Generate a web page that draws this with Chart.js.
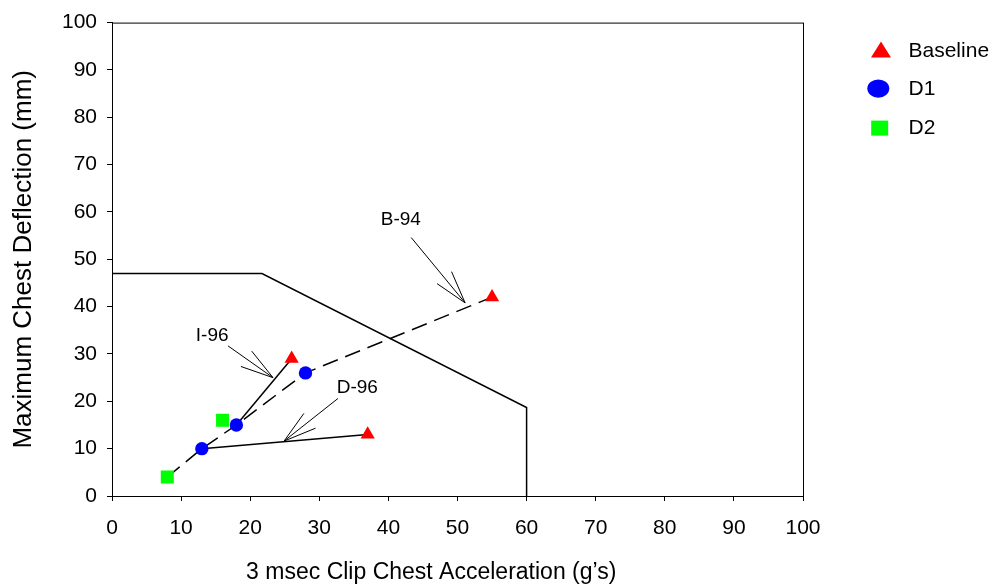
<!DOCTYPE html>
<html>
<head>
<meta charset="utf-8">
<script src="https://cdn.jsdelivr.net/npm/chart.js@4.4.0/dist/chart.umd.min.js"></script>
<style>
  html, body { margin: 0; padding: 0; background: #fff; }
</style>
</head>
<body>
<canvas id="chart1" width="999" height="588"></canvas>
<script>
// test points
const baselineX = [55, 26, 37];
const baselineY = [42, 29, 13];
const d1X = [28, 18, 13];
const d1Y = [26, 15, 10];
const d2X = [16, 8];
const d2Y = [16, 4];

// dashed line joining the tests
const trendX = [8, 13, 18, 28, 55];
const trendY = [4, 10, 15, 26, 42];

// solid links
const i96X = [18, 26];
const i96Y = [15, 29];
const d96X = [13, 37];
const d96Y = [10, 13];

// injury limit boundary
const limitX = [0, 21.7, 60, 60];
const limitY = [47, 47, 18.7, 0];

// axis ticks
const xTicks = [0, 10, 20, 30, 40, 50, 60, 70, 80, 90, 100];
const yTicks = [0, 10, 20, 30, 40, 50, 60, 70, 80, 90, 100];

// callout labels and arrows (data units)
const noteLabels = ['B-94', 'I-96', 'D-96'];
const noteTextX = [41.8, 14.5, 35.5];
const noteTextY = [58.4, 33.8, 22.9];
const noteFromX = [43.3, 16.8, 32.7];
const noteFromY = [54.6, 31.7, 20.6];
const noteToX = [51.1, 23.3, 24.9];
const noteToY = [40.8, 25.0, 11.6];

const legendNames = ['Baseline', 'D1', 'D2'];

function pts(xs, ys) {
    return xs.map((x, i) => ({ x: x, y: ys[i] }));
}

const FONT = "'Liberation Sans', Arial, sans-serif";

const lineBase = {
    type: 'line',
    showLine: true,
    pointRadius: 0,
    pointHoverRadius: 0,
    fill: false,
    tension: 0,
    borderColor: '#000'
};

// frame, callouts, x title and legend
const extras = {
    id: 'extras',
    afterDatasetsDraw(chart) {
        const { ctx, chartArea } = chart;
        const xs = chart.scales.x, ys = chart.scales.y;
        ctx.save();
        ctx.strokeStyle = '#000';
        ctx.lineWidth = 1;
        ctx.strokeRect(chartArea.left + 0.5, chartArea.top + 0.5,
            chartArea.right - chartArea.left, chartArea.bottom - chartArea.top);

        // callouts
        ctx.fillStyle = '#000';
        ctx.font = '19px ' + FONT;
        ctx.textAlign = 'center';
        ctx.textBaseline = 'middle';
        noteLabels.forEach((lab, i) => {
            ctx.fillText(lab, xs.getPixelForValue(noteTextX[i]), ys.getPixelForValue(noteTextY[i]));
            const x1 = xs.getPixelForValue(noteFromX[i]), y1 = ys.getPixelForValue(noteFromY[i]);
            const x2 = xs.getPixelForValue(noteToX[i]), y2 = ys.getPixelForValue(noteToY[i]);
            const ang = Math.atan2(y1 - y2, x1 - x2);
            const L = 34, spread = 0.28;
            ctx.beginPath();
            ctx.moveTo(x1, y1);
            ctx.lineTo(x2, y2);
            ctx.moveTo(x2 + L * Math.cos(ang + spread), y2 + L * Math.sin(ang + spread));
            ctx.lineTo(x2, y2);
            ctx.lineTo(x2 + L * Math.cos(ang - spread), y2 + L * Math.sin(ang - spread));
            ctx.stroke();
        });

        // x axis title
        ctx.font = '23px ' + FONT;
        ctx.fillText('3 msec Clip Chest Acceleration (g\u2019s)',
            chartArea.left + 0.462 * (chartArea.right - chartArea.left), 573);

        // legend
        const r = chartArea.right, t = chartArea.top;
        const rowY = [t + 28.5, t + 67, t + 105.5];
        ctx.fillStyle = '#ff0000';
        ctx.beginPath();
        ctx.moveTo(r + 78, rowY[0] - 9.5);
        ctx.lineTo(r + 88, rowY[0] + 6.5);
        ctx.lineTo(r + 68, rowY[0] + 6.5);
        ctx.closePath();
        ctx.fill();
        ctx.fillStyle = '#0000ff';
        ctx.beginPath();
        ctx.ellipse(r + 75.3, rowY[1] - 1, 11, 9.2, 0, 0, Math.PI * 2);
        ctx.fill();
        ctx.fillStyle = '#00ff00';
        ctx.fillRect(r + 68.2, rowY[2] - 7.5, 17, 15);

        ctx.fillStyle = '#000';
        ctx.font = '21px ' + FONT;
        ctx.textAlign = 'left';
        legendNames.forEach((n, i) => ctx.fillText(n, r + 105.5, rowY[i]));
        ctx.restore();
    }
};

const config1 = {
    type: 'scatter',
    data: {
        datasets: [
            {
                label: legendNames[0],
                data: pts(baselineX, baselineY),
                pointStyle: 'triangle',
                pointRadius: 8.2,
                pointHoverRadius: 8.2,
                backgroundColor: '#ff0000',
                borderColor: '#ff0000',
                borderWidth: 0
            },
            {
                label: legendNames[1],
                data: pts(d1X, d1Y),
                pointStyle: 'circle',
                pointRadius: 6.7,
                pointHoverRadius: 6.7,
                backgroundColor: '#0000ff',
                borderColor: '#0000ff',
                borderWidth: 0
            },
            {
                label: legendNames[2],
                data: pts(d2X, d2Y),
                pointStyle: 'rect',
                pointRadius: 9.2,
                pointHoverRadius: 9.2,
                backgroundColor: '#00ff00',
                borderColor: '#00ff00',
                borderWidth: 0
            },
            Object.assign({}, lineBase, { label: 'trend', data: pts(trendX, trendY), borderWidth: 1.5, borderDash: [16, 8] }),
            Object.assign({}, lineBase, { label: 'I-96', data: pts(i96X, i96Y), borderWidth: 1.5 }),
            Object.assign({}, lineBase, { label: 'D-96', data: pts(d96X, d96Y), borderWidth: 1.5 }),
            Object.assign({}, lineBase, { label: 'limit', data: pts(limitX, limitY), borderWidth: 1.5 })
        ]
    },
    options: {
        responsive: false,
        animation: false,
        layout: { padding: { top: 20, right: 196, left: 0, bottom: 0 } },
        plugins: {
            legend: { display: false },
            tooltip: { enabled: false }
        },
        scales: {
            x: {
                type: 'linear',
                min: 0,
                max: 100,
                afterBuildTicks: (s) => { s.ticks = xTicks.map(v => ({ value: v })); },
                afterFit: (s) => { s.height = 92; },
                ticks: { color: '#000', font: { size: 21, family: FONT }, padding: 15, maxRotation: 0 },
                grid: { drawOnChartArea: false, drawTicks: true, tickLength: 5, color: '#000' },
                border: { display: true, color: '#000', width: 1 }
            },
            y: {
                type: 'linear',
                min: 0,
                max: 100,
                afterBuildTicks: (s) => { s.ticks = yTicks.map(v => ({ value: v })); },
                afterFit: (s) => { s.width = 112; },
                ticks: { color: '#000', font: { size: 21, family: FONT }, padding: 10 },
                grid: { drawOnChartArea: false, drawTicks: true, tickLength: 5, color: '#000' },
                border: { display: true, color: '#000', width: 1 },
                title: {
                    display: true,
                    text: 'Maximum Chest Deflection (mm)',
                    color: '#000',
                    font: { size: 26, family: FONT },
                    padding: { top: 8, bottom: 0 }
                }
            }
        }
    },
    plugins: [extras]
};

new Chart(document.getElementById('chart1'), config1);
</script>
</body>
</html>
